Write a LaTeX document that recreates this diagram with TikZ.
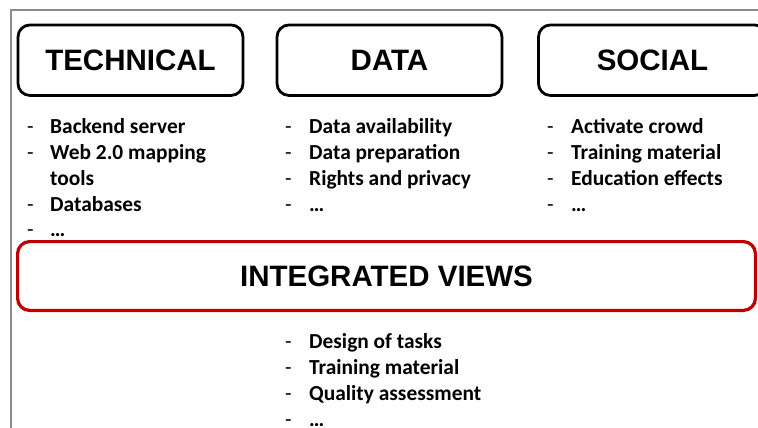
\documentclass[tikz,border=0pt]{standalone}
\usepackage{fontspec}
\setmainfont{Carlito}
\newfontfamily\headfont{Liberation Sans}
\usepackage{array}
\definecolor{redc}{RGB}{192,0,0}
\definecolor{framegray}{RGB}{140,140,140}
\begin{document}
\begin{tikzpicture}[x=1pt,y=-1pt,
  frameline/.style={draw=framegray, line width=1.4pt},
  title/.style={draw=black, line width=2.8pt, rounded corners=12pt,
    minimum width=225pt, minimum height=70.5pt, inner sep=0pt,
    font=\headfont\bfseries\fontsize{29.5}{34}\selectfont},
  widetitle/.style={title, draw=redc, line width=3.2pt,
    minimum width=737.8pt, minimum height=68.8pt},
  items/.style={anchor=base west, inner sep=0pt, align=left,
    font=\fontsize{21.4}{26}\selectfont}
]
\useasboundingbox (0,0) rectangle (758,428);
\clip (0,0) rectangle (758,428);

% slide frame
\draw[frameline] (11,430) -- (11,10) -- (760,10);

% category headers
\node[title] (tech) at (130.5,60.2) {TECHNICAL};
\node[title] (data) at (389.5,60.2) {DATA};
\node[title, minimum width=228pt] (social) at (652.5,60.2) {SOCIAL};
\node[widetitle] (integ) at (386.5,276) {INTEGRATED VIEWS};

% item lists
\node[items] (techlist) at (27,133) {\begin{tabular}[t]{@{}p{23pt}@{}l@{}}
-&\textbf{Backend server}\\
-&\textbf{Web 2.0 mapping}\\
&\textbf{tools}\\
-&\textbf{Databases}\\
-&\textbf{…}
\end{tabular}};

\node[items] (datalist) at (285,133) {\begin{tabular}[t]{@{}p{24pt}@{}l@{}}
-&\textbf{Data availability}\\
-&\textbf{Data preparation}\\
-&\textbf{Rights and privacy}\\
-&\textbf{…}
\end{tabular}};

\node[items] (sociallist) at (547,133) {\begin{tabular}[t]{@{}p{24pt}@{}l@{}}
-&\textbf{Activate crowd}\\
-&\textbf{Training material}\\
-&\textbf{Education effects}\\
-&\textbf{…}
\end{tabular}};

\node[items] (integlist) at (285,348) {\begin{tabular}[t]{@{}p{24pt}@{}l@{}}
-&\textbf{Design of tasks}\\
-&\textbf{Training material}\\
-&\textbf{Quality assessment}\\
-&\textbf{…}
\end{tabular}};
\end{tikzpicture}
\end{document}
